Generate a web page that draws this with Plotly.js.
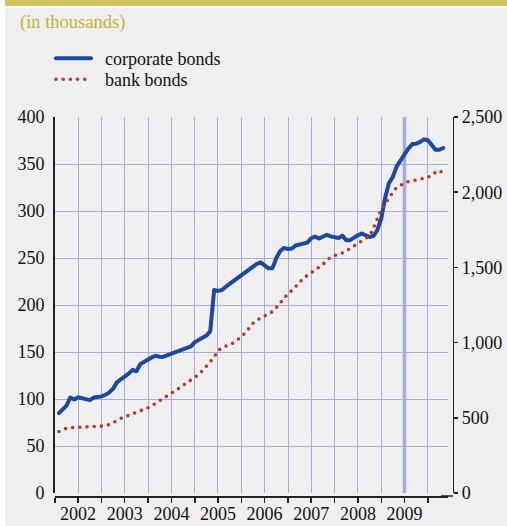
<!DOCTYPE html>
<html><head><meta charset="utf-8">
<script src="https://cdn.plot.ly/plotly-3.0.1.min.js"></script>
<style>
html,body{margin:0;padding:0;background:#fff;}
#chart{width:507px;height:526px;}
.scatterlayer path.js-line, .infolayer .legendlines path {stroke-linecap:round;stroke-linejoin:round;}
.infolayer g.scrollbox {clip-path: none !important;}
</style></head><body><div id="chart"></div>
<script>
// monthly observations, first month = Feb 2002
const firstMonth = '2002-02';
const corporateBonds = [85,88.5,93,101.5,99.5,101.8,100.5,99.5,98.8,101.5,101.8,102.8,104.5,106.8,111,117.7,121,123.5,127,131,
  129.5,137.2,139.8,143,144.5,146,144.8,145,146.5,148.2,149.3,151.4,153.3,154.2,156,160.5,163.2,165,167.5,172,
  216,215,216,219.5,222.5,225.5,227.7,231.5,234,237.2,239.7,243.8,245.3,242,239,239.2,250,257.5,260.7,259.5,
  260,263.3,264.7,265.6,266.4,271,272.7,270.8,273.3,274.7,273,272.2,271.2,273.8,268.8,269,272,274.2,276,274.5,
  272.3,273.5,279.8,292.5,315,329.5,336.3,347.5,353.9,361,366.5,371.2,371.5,373.5,376.2,375.3,370.4,365.2,365.2,367];
const bankBonds = [409,422,431,434,436,438,440,440,439,441,443,444,446,455,466,481,496,506,515,522,
  531,543,554,567,581,598,615,631,649,664,681,698,716,735,755,769,788,813,843,871,
  903,946,966,977,985,1000,1018,1039,1066,1095,1128,1149,1163,1177,1190,1206,1233,1266,1296,1326,
  1347,1368,1399,1428,1449,1464,1482,1499,1521,1544,1569,1579,1587,1596,1609,1626,1643,1656,1678,1696,
  1709,1763,1830,1888,1925,1963,2000,2031,2048,2061,2071,2076,2080,2083,2086,2097,2119,2133,2144,2124];
const years = ['2002','2003','2004','2005','2006','2007','2008','2009'];
const seriesNames = ['corporate bonds','bank bonds'];

function monthDates(start, n){
  const [y,m] = start.split('-').map(Number);
  const out = [];
  for(let i=0;i<n;i++){
    const d = new Date(Date.UTC(y, m-1+i, 1));
    out.push(d.toISOString().slice(0,10));
  }
  return out;
}
const dates = monthDates(firstMonth, corporateBonds.length);

// half-year ticks, year label in the middle of each year
const tickvals = [], ticktext = [];
years.forEach(yr => {
  tickvals.push(yr + '-01-01'); ticktext.push('');
  tickvals.push(yr + '-07-01'); ticktext.push(yr);
});
tickvals.push((Number(years[years.length-1])+1) + '-01-01'); ticktext.push('');

const FONT = 'Liberation Serif, Times New Roman, serif';
const GRID = '#a4acdc';
const AX = '#222';
const W = 398, H = 379, L = 55, T = 117;
const px = v => (v - L) / W;
const py = v => (T + H - v) / H;
const FS = 18;
const GAP = '\u00a0\u00a0'; // extra room between legend symbol and text

const traces = [
  {x: dates, y: corporateBonds, name: GAP + seriesNames[0], type: 'scatter', mode: 'lines',
   line: {color: '#1c48a0', width: 4}, yaxis: 'y', legend: 'legend'},
  {x: dates, y: bankBonds, name: GAP + seriesNames[1], type: 'scatter', mode: 'lines',
   line: {color: '#b23a2c', width: 3.6, dash: '0px,7.2px'}, yaxis: 'y2', legend: 'legend2'}
];

const legendBase = {xanchor: 'left', yanchor: 'top', bgcolor: 'rgba(0,0,0,0)',
  font: {family: FONT, size: FS, color: '#111'}, itemwidth: 35};

const layout = {
  width: 507, height: 526,
  margin: {l: L, r: 507 - L - W, t: T, b: 526 - T - H, pad: 0},
  paper_bgcolor: '#ffffff', plot_bgcolor: 'rgba(0,0,0,0)',
  font: {family: FONT, size: FS, color: '#111'},
  title: {text: '(in thousands)', font: {family: FONT, size: 18.5, color: '#c6b232'},
          xref: 'container', x: 20/507, xanchor: 'left', yref: 'container', y: 1 - 22/526, yanchor: 'middle'},
  showlegend: true,
  legend: Object.assign({}, legendBase, {x: px(51), y: py(40)}),
  legend2: Object.assign({}, legendBase, {x: px(51), y: py(61)}),
  xaxis: {type: 'date', range: ['2002-01-01', '2010-06-07'], domain: [0, 0.9874],
          anchor: 'free', position: 0, tickmode: 'array', tickvals: tickvals, ticktext: ticktext,
          showgrid: true, gridcolor: GRID, gridwidth: 1, showline: true, linecolor: AX, linewidth: 1.5,
          ticks: 'outside', ticklen: 5, tickwidth: 1.5, tickcolor: AX, zeroline: false, ticklabelstandoff: -4,
          tickfont: {family: FONT, size: FS, color: '#111'}, fixedrange: true},
  yaxis: {range: [0, 400], domain: [3/379, 1], dtick: 50, tick0: 0, showgrid: true, gridcolor: GRID, gridwidth: 1,
          showline: true, linecolor: AX, linewidth: 2, ticks: '', zeroline: false, ticklabelstandoff: 5,
          tickfont: {family: FONT, size: FS, color: '#111'}, fixedrange: true},
  yaxis2: {range: [0, 2500], overlaying: 'y', side: 'right', anchor: 'free', position: 1,
           dtick: 500, tick0: 0, tickformat: ',d', showgrid: false, showline: true, linecolor: AX, linewidth: 1.2,
           ticks: 'outside', ticklen: 4, tickwidth: 1.5, tickcolor: AX, zeroline: false,
           tickfont: {family: FONT, size: FS, color: '#111'}, fixedrange: true},
  shapes: [
    {type: 'rect', xref: 'paper', yref: 'paper', x0: px(5), x1: px(507), y0: py(8), y1: py(526),
     fillcolor: '#efefef', line: {width: 0}, layer: 'below'},
    {type: 'rect', xref: 'paper', yref: 'paper', x0: px(5), x1: px(507), y0: py(0), y1: py(6),
     fillcolor: '#d2c35c', line: {width: 0}, layer: 'below'},
    {type: 'line', xref: 'x', yref: 'y', x0: '2009-07-01', x1: '2009-07-01', y0: 0, y1: 400,
     line: {color: GRID, width: 3.5}, layer: 'below'},
    {type: 'line', xref: 'paper', yref: 'paper', x0: 0.97, x1: 1, y0: 0, y1: 0,
     line: {color: AX, width: 1.5}, layer: 'above'}
  ]
};

Plotly.newPlot('chart', traces, layout, {staticPlot: true});
</script></body></html>
